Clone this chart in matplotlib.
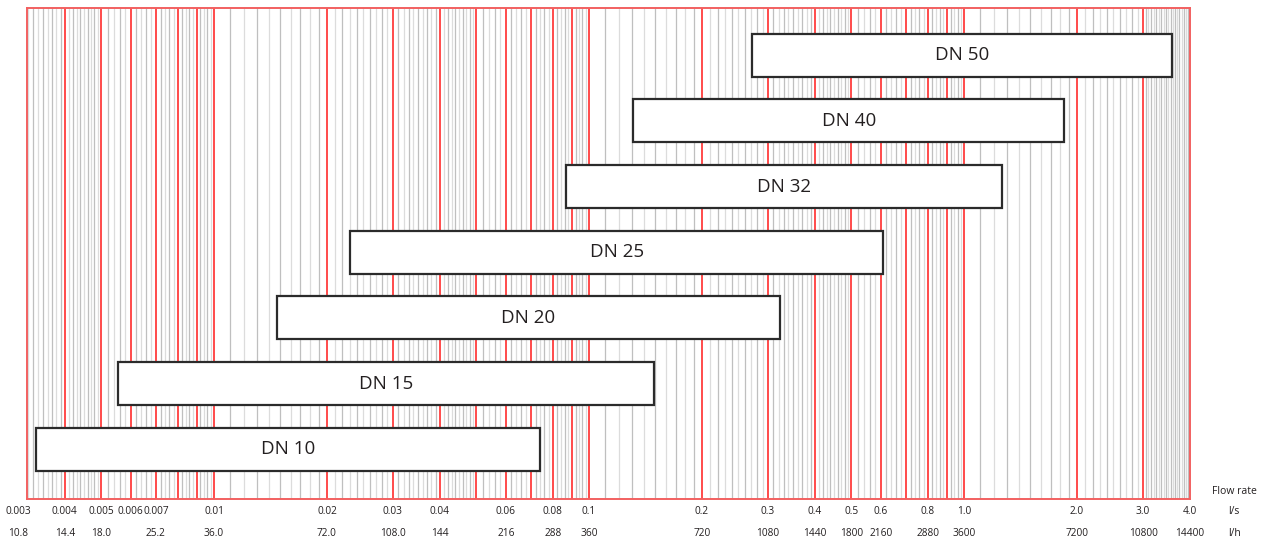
import numpy as np
import matplotlib
matplotlib.use('Agg')
import matplotlib.pyplot as plt
from matplotlib.transforms import blended_transform_factory, offset_copy

plt.rcParams['font.family'] = ['Open Sans', 'DejaVu Sans']

# ---- data -------------------------------------------------------------
categories = ['DN 10', 'DN 15', 'DN 20', 'DN 25', 'DN 32', 'DN 40', 'DN 50']
range_min = [0.00335, 0.00555, 0.0147, 0.0231, 0.0868, 0.131, 0.272]   # l/s
range_max = [0.074, 0.149, 0.323, 0.608, 1.263, 1.85, 3.59]            # l/s

ls_ticks = [0.003, 0.004, 0.005, 0.006, 0.007, 0.01, 0.02, 0.03, 0.04, 0.06,
            0.08, 0.1, 0.2, 0.3, 0.4, 0.5, 0.6, 0.8, 1.0, 2.0, 3.0, 4.0]
ls_labels = ['0.003', '0.004', '0.005', '0.006', '0.007', '0.01', '0.02', '0.03',
             '0.04', '0.06', '0.08', '0.1', '0.2', '0.3', '0.4', '0.5', '0.6',
             '0.8', '1.0', '2.0', '3.0', '4.0']
lh_ticks = [0.003, 0.004, 0.005, 0.007, 0.01, 0.02, 0.03, 0.04, 0.06, 0.08,
            0.1, 0.2, 0.3, 0.4, 0.5, 0.6, 0.8, 1.0, 2.0, 3.0, 4.0]
lh_labels = ['10.8', '14.4', '18.0', '25.2', '36.0', '72.0', '108.0', '144',
             '216', '288', '360', '720', '1080', '1440', '1800', '2160', '2880',
             '3600', '7200', '10800', '14400']

x_left, x_right = 0.003172, 4.0

# ---- figure -----------------------------------------------------------
fig = plt.figure(figsize=(12.68, 5.44), dpi=100)
ax = fig.add_axes([27 / 1268, 45 / 544, 1163 / 1268, 491 / 544])
ax.set_xscale('log')
ax.set_xlim(x_left, x_right)
ax.set_ylim(-0.753, 6.715)

# grid lines (grey minor, red major)
major = []
for dec in [0.001, 0.01, 0.1, 1.0]:
    for k in range(1, 10):
        v = round(k * dec, 6)
        if x_left < v < x_right:
            major.append(v)
minor_spec = [(0.003, 0.005, 0.0001), (0.005, 0.01, 0.0002), (0.01, 0.05, 0.001),
              (0.05, 0.1, 0.002), (0.1, 0.5, 0.01), (0.5, 1.0, 0.02),
              (1.0, 3.0, 0.1), (3.0, 4.0, 0.05)]
minor = []
for a, b, s in minor_spec:
    n = int(round((b - a) / s))
    for i in range(1, n):
        v = round(a + i * s, 6)
        if x_left < v < x_right and all(abs(v - m) > 1e-9 for m in major):
            minor.append(v)
for i, v in enumerate(minor):
    ax.axvline(v, color='#bfbfbf' if i % 2 else '#dcdcdc', lw=0.9, zorder=1)
for v in major:
    ax.axvline(v, color='#ff1a1a', lw=1.1, zorder=2)

# bars
ypos = np.arange(len(categories))
widths = [r - l for l, r in zip(range_min, range_max)]
ax.barh(ypos, widths, left=range_min, height=0.654, color='white',
        edgecolor='#2b2b2b', linewidth=1.6, zorder=3)
for y, l, r, name in zip(ypos, range_min, range_max, categories):
    ax.text(np.sqrt(l * r), y, name, ha='center', va='center', fontsize=13.5,
            color='#231f20', zorder=4)

# frame
for sp in ax.spines.values():
    sp.set_color('#f26060')
    sp.set_linewidth(1.4)
ax.set_xticks([])
ax.set_yticks([])
ax.minorticks_off()
ax.tick_params(which='both', length=0)

# two rows of labels
tr = blended_transform_factory(ax.transData, ax.transAxes)
tr1 = offset_copy(tr, fig=fig, x=0, y=-13, units='dots')
tr2 = offset_copy(tr, fig=fig, x=0, y=-35, units='dots')
for v, s in zip(ls_ticks, ls_labels):
    ax.text(v, 0, s, transform=tr1, ha='center', va='center', fontsize=7.3,
            color='#231f20', clip_on=False)
for v, s in zip(lh_ticks, lh_labels):
    ax.text(v, 0, s, transform=tr2, ha='center', va='center', fontsize=7.3,
            color='#231f20', clip_on=False)

fig.text(1212 / 1268, 1 - 491 / 544, 'Flow rate', ha='left', va='center',
         fontsize=7.5, color='#231f20')
fig.text(1228 / 1268, 1 - 512 / 544, 'l/s', ha='left', va='center',
         fontsize=7.5, color='#231f20')
fig.text(1228 / 1268, 1 - 534 / 544, 'l/h', ha='left', va='center',
         fontsize=7.5, color='#231f20')

fig.savefig('out.png', dpi=100)
